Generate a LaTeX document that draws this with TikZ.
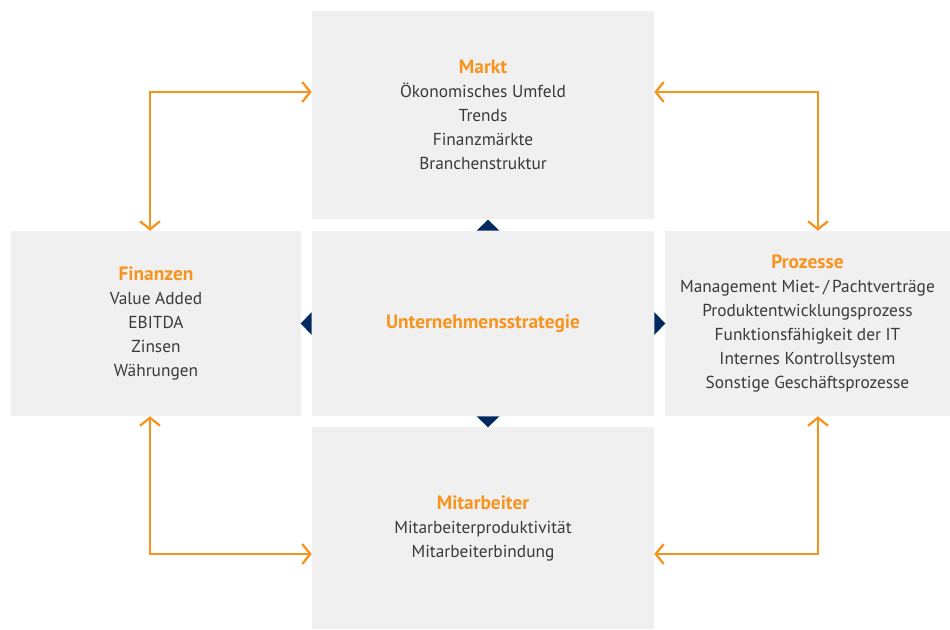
\documentclass[tikz,border=0pt]{standalone}
\usepackage{fontspec}
\setmainfont{PT Sans}
\usetikzlibrary{arrows.meta,calc}

\definecolor{boxgrey}{HTML}{F0F0F0}
\definecolor{fhorange}{HTML}{F7941E}
\definecolor{navyblue}{HTML}{002A5F}
\definecolor{textgrey}{HTML}{3A3A3A}

\tikzstyle{field} = [fill=boxgrey, inner sep=0pt, align=center, text=textgrey, font=\fontsize{13}{18}\selectfont]
\tikzstyle{line} = [draw=fhorange, line width=1.7pt, {Straight Barb[length=6pt,width=15pt]}-{Straight Barb[length=6pt,width=15pt]}]
\tikzstyle{pointer} = [fill=navyblue]
\newcommand{\titel}[1]{{\fontsize{14.5}{18}\selectfont\bfseries\color{fhorange}#1}}

\begin{document}
\begin{tikzpicture}[x=0.75pt,y=-0.75pt]
		\useasboundingbox (0,0) rectangle (950,629);
		
		%boxes
		\node[field, minimum width=256.5pt, minimum height=156pt] (markt) at (483,115) {\titel{Markt}\\ Ökonomisches Umfeld\\ Trends\\ Finanzmärkte\\ Branchenstruktur};
		\node[field, minimum width=256.5pt, minimum height=138.75pt] (strat) at (483,323.5) {\titel{Unternehmensstrategie}};
		\node[field, minimum width=256.5pt, minimum height=151.5pt] (mitarb) at (483,528) {\titel{Mitarbeiter}\\ Mitarbeiterproduktivität\\ Mitarbeiterbindung};
		\node[field, minimum width=217.5pt, minimum height=138.75pt] (fin) at (156,323.5) {\titel{Finanzen}\\ Value Added\\ EBITDA\\ Zinsen\\ Währungen};
		\node[field, minimum width=213.75pt, minimum height=138.75pt] (proz) at (807.5,323.5) {\titel{Prozesse}\\ Management Miet-\,/\,Pachtverträge\\ Produktentwicklungsprozess\\ Funktionsfähigkeit der IT\\ Internes Kontrollsystem\\ Sonstige Geschäftsprozesse};
		
		%pointers
		\fill[pointer] ($(strat.north)+(-6.5,0)$) -- ++(23,0) -- ++(-11.5,-11) -- cycle;
		\fill[pointer] ($(strat.south)+(-6.5,0)$) -- ++(23,0) -- ++(-11.5,11) -- cycle;
		\fill[pointer] ($(strat.west)+(0,-11.5)$) -- ++(0,23) -- ++(-11,-11.5) -- cycle;
		\fill[pointer] ($(strat.east)+(0,-11.5)$) -- ++(0,23) -- ++(11,-11.5) -- cycle;
		
		%arrows
		\coordinate (nw) at (150,92);
		\coordinate (ne) at (818,92);
		\coordinate (sw) at (150,554);
		\coordinate (se) at (818,554);
		\draw[line] (fin.north -| nw) |- (markt.west |- nw);
		\draw[line] (markt.east |- ne) -| (proz.north -| ne);
		\draw[line] (fin.south -| sw) |- (mitarb.west |- sw);
		\draw[line] (mitarb.east |- se) -| (proz.south -| se);
\end{tikzpicture}
\end{document}
